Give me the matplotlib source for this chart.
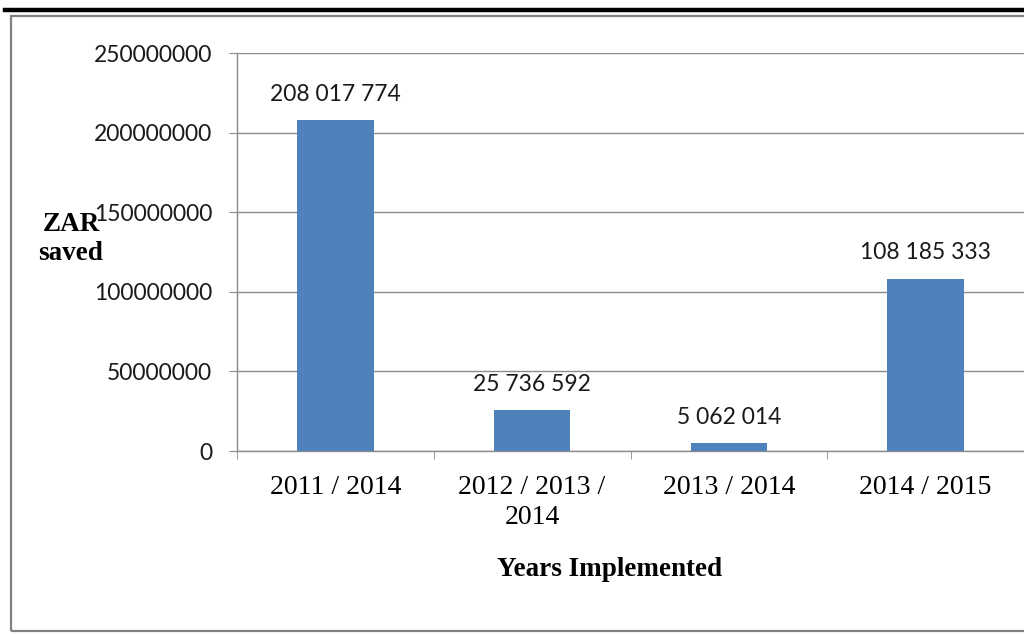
import matplotlib
matplotlib.use("Agg")
import matplotlib.pyplot as plt
from matplotlib.patches import Rectangle
from matplotlib.lines import Line2D
import numpy as np

categories = ["2011 / 2014", "2012 / 2013 /\n2014", "2013 / 2014", "2014 / 2015"]
values = [208017774, 25736592, 5062014, 108185333]
value_labels = ["208 017 774", "25 736 592", "5 062 014", "108 185 333"]
yticks = [0, 50000000, 100000000, 150000000, 200000000, 250000000]

W, H = 1024, 634
fig = plt.figure(figsize=(W / 100, H / 100), dpi=100)

# frame decorations
fig.add_artist(Line2D([5 / W, 1.0], [1 - 10 / H, 1 - 10 / H], color="black", lw=3.2,
                      transform=fig.transFigure))
fig.add_artist(Rectangle((11 / W, 3 / H), 1.2, (631 - 16) / H, fill=False,
                         edgecolor="#808080", lw=1.6, transform=fig.transFigure))

ax = fig.add_axes([237 / W, 1 - 451 / H, (W - 237) / W, (451 - 53) / H])
x = np.arange(len(categories))
bar_color = "#4F81BD"
ax.bar(x, values, width=0.39, color=bar_color, zorder=3)

ax.set_xlim(-0.5, len(categories) - 0.5)
ax.set_ylim(0, 250000000)
ax.set_yticks(yticks)
ax.set_yticklabels([str(v) for v in yticks], family="Lato", fontsize=16.5, color="#1a1a1a")
ax.yaxis.grid(True, color="#8c8c8c", lw=1.0, zorder=0)

ax.set_xticks(x)
ax.set_xticklabels(categories, family="Liberation Serif", fontsize=20, color="black",
                   linespacing=1.25)
ax.set_xticks(np.arange(-0.5, len(categories) + 0.5, 1), minor=True)
ax.tick_params(axis="x", which="major", length=0, pad=17.5)
ax.tick_params(axis="x", which="minor", length=6, color="#8c8c8c", direction="out")
ax.tick_params(axis="y", length=6, color="#8c8c8c", pad=12, direction="out")

for s in ["top", "right"]:
    ax.spines[s].set_visible(False)
for s in ["left", "bottom"]:
    ax.spines[s].set_color("#8c8c8c")
    ax.spines[s].set_linewidth(1.0)

for xi, v, lab in zip(x, values, value_labels):
    ax.annotate(lab, (xi, v), xytext=(0, 11), textcoords="offset points",
                ha="center", va="bottom", family="Lato", fontsize=16.5, color="#1a1a1a")

fig.text(71 / W, 1 - 239 / H, "ZAR\nsaved", family="Liberation Serif", fontweight="bold",
         fontsize=19.5, ha="center", va="center", linespacing=1.2)
fig.text(610 / W, 1 - 569 / H, "Years Implemented", family="Liberation Serif",
         fontweight="bold", fontsize=19.5, ha="center", va="center")

fig.savefig("out.png", dpi=100)
